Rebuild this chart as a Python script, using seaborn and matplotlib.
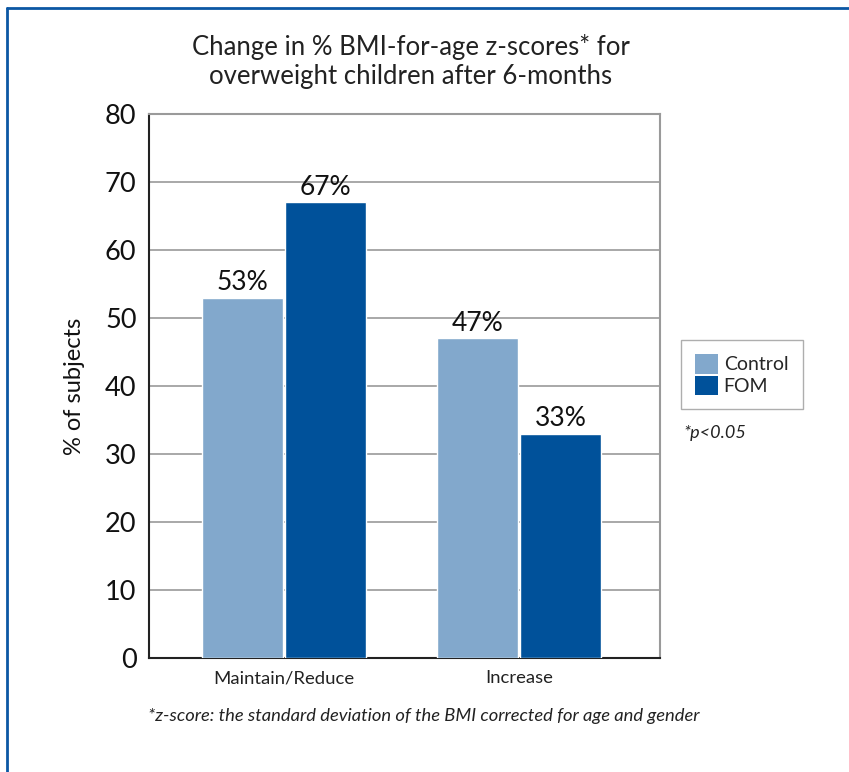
import pandas as pd
import seaborn as sns
import matplotlib.pyplot as plt
from matplotlib.lines import Line2D
from matplotlib.patches import Patch

# ========= data =========
outcomes = ["Maintain/Reduce", "Increase"]
groups = ["Control", "FOM"]
control_pct = [53, 47]
fom_pct = [67, 33]
y_ticks = [0, 10, 20, 30, 40, 50, 60, 70, 80]

df = pd.DataFrame({
    "outcome": outcomes * 2,
    "group": ["Control"] * len(outcomes) + ["FOM"] * len(outcomes),
    "pct": control_pct + fom_pct,
})

light = "#82A8CC"
dark = "#00519A"

sns.set_theme(style="white")
plt.rcParams["font.family"] = ["Lato", "DejaVu Sans"]

fig = plt.figure(figsize=(8.49, 7.72), dpi=100)
ax = fig.add_axes([0.1755, 0.1477, 0.602, 0.7047])

sns.barplot(data=df, x="outcome", y="pct", hue="group", order=outcomes,
            hue_order=groups, palette=[light, dark], width=0.71, gap=0.03,
            saturation=1, ax=ax, legend=False, zorder=3)

ax.set_ylim(0, 80)
ax.set_xlim(-0.574, 1.6)
ax.set_yticks(y_ticks)
ax.yaxis.grid(True, color="#9a9a9a", linewidth=1.2, zorder=0)
ax.set_axisbelow(True)
ax.tick_params(axis="y", labelsize=19.5, colors="#111111", length=0, pad=9)
ax.tick_params(axis="x", labelsize=13.3, colors="#222222", length=0, pad=9)

for side in ["left", "bottom"]:
    ax.spines[side].set_color("#222222")
    ax.spines[side].set_linewidth(1.5)
for side in ["top", "right"]:
    ax.spines[side].set_color("#9a9a9a")
    ax.spines[side].set_linewidth(1.5)

ax.set_xlabel("")
ax.set_ylabel("% of subjects", fontsize=17, color="#111111", labelpad=14)

for cont in ax.containers:
    ax.bar_label(cont, labels=[f"{v:.0f}%" for v in cont.datavalues],
                 fontsize=19, color="#111111", padding=2)

fig.text(0.484, 0.92, "Change in % BMI-for-age z-scores* for\noverweight children after 6-months",
         ha="center", va="center", fontsize=18.5, color="#222222", linespacing=1.22)

handles = [Patch(facecolor=light, edgecolor="none"), Patch(facecolor=dark, edgecolor="none")]
leg = fig.legend(handles, groups, loc="upper left", bbox_to_anchor=(0.802, 0.56),
                 fontsize=14, frameon=True, fancybox=False, handlelength=1.15,
                 handleheight=1.15, handletextpad=0.3, borderpad=0.75,
                 borderaxespad=0, labelspacing=0.1)
leg.get_frame().set_edgecolor("#9a9a9a")
leg.get_frame().set_linewidth(1.0)

fig.text(0.805, 0.439, "*p<0.05", fontsize=13, style="italic", color="#222222",
         ha="left", va="center")
fig.text(0.499, 0.073,
         "*z-score: the standard deviation of the BMI corrected for age and gender",
         fontsize=13.2, style="italic", color="#222222", ha="center", va="center")

# page frame
fig.add_artist(Line2D([0.008, 1.0], [0.9895, 0.9895], color="#0B57A4", linewidth=2.0))
fig.add_artist(Line2D([0.0085, 0.0085], [0.0, 0.99], color="#0B57A4", linewidth=2.0))

fig.savefig("out.png", dpi=100)
